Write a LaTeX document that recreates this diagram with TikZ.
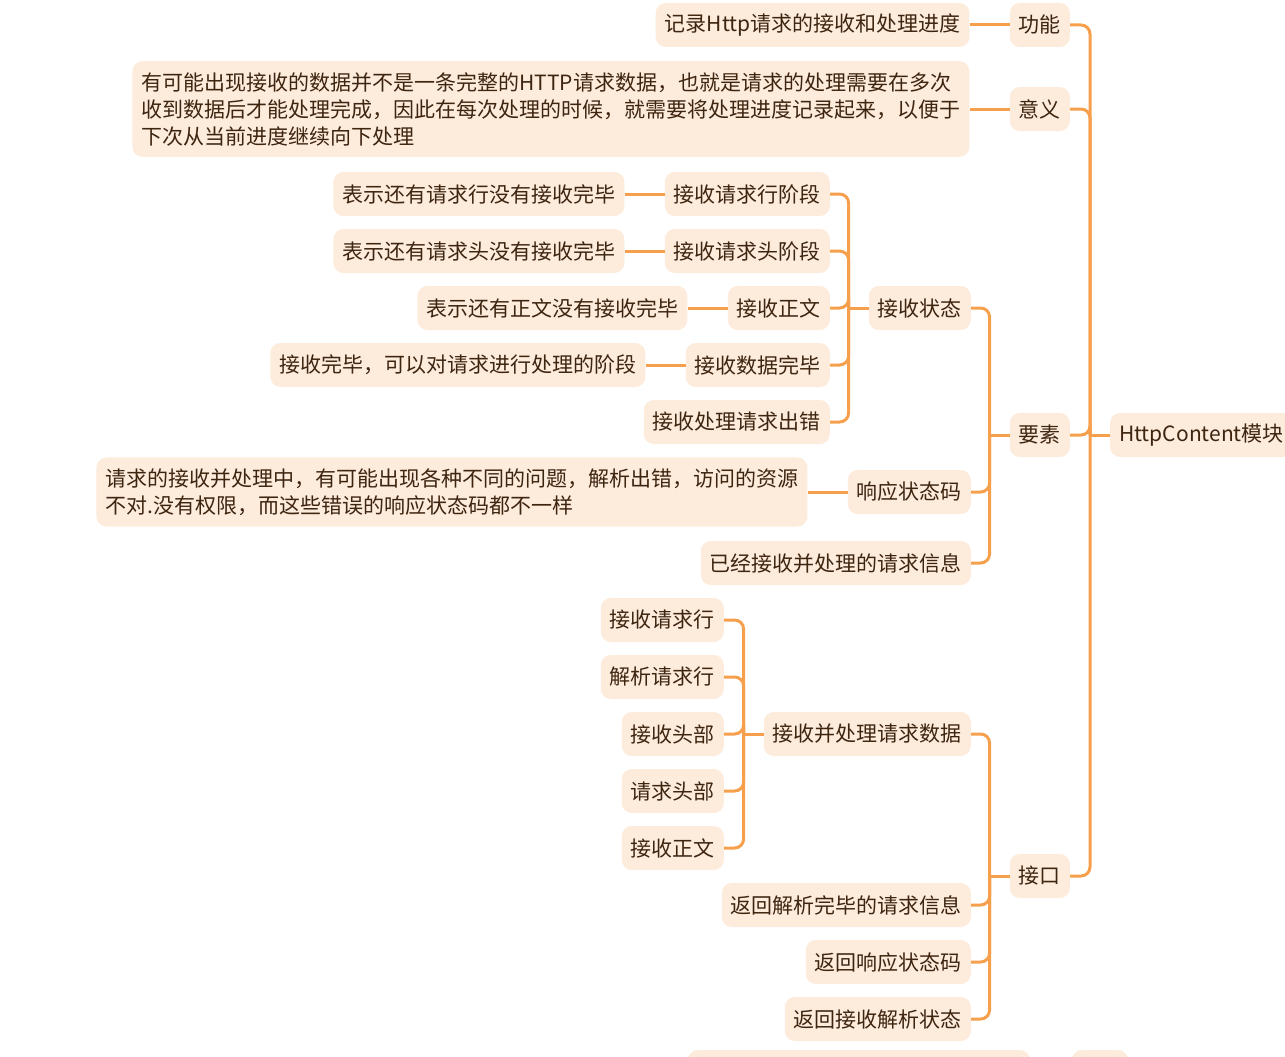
\documentclass[tikz,border=0pt]{standalone}
\usepackage{fontspec}
\newfontfamily\cjk{Noto Sans CJK SC}
\usetikzlibrary{positioning}
\definecolor{mmfill}{HTML}{FDEBDC}
\definecolor{mmline}{HTML}{F6A04D}
\definecolor{mmtext}{HTML}{3E2510}
\tikzset{topic/.style={fill=mmfill,text=mmtext,rounded corners=10pt,inner xsep=9pt,inner ysep=0pt,minimum height=44pt,font=\cjk\fontsize{21}{27}\selectfont},
	note/.style={topic,align=left,inner ysep=11pt},
	link/.style={draw=mmline,line width=3pt},
	branch/.style={link,rounded corners=9pt,to path={([xshift=-20pt]\tikztostart.west) |- (\tikztotarget.east)}},
}

\begin{document}
\begin{tikzpicture}[x=1pt,y=-1pt,node distance = 40pt]
	\useasboundingbox (0,0) rectangle (1285,1057);
	\node[topic,anchor=west] (root) at (1110,435) {HttpContent模块};
	
	\node[topic,anchor=east] (gn) at (1070,25) {功能};
	\node[topic,anchor=east] (yy) at (1070,109) {意义};
	\node[topic,anchor=east] (ys) at (1070,435) {要素};
	\node[topic,anchor=east] (jk) at (1070,876) {接口};
	\node[topic] (gnd)[left = of gn] {记录Http请求的接收和处理进度};
	\node[note] (yyd)[left = of yy] {有可能出现接收的数据并不是一条完整的HTTP请求数据，也就是请求的处理需要在多次\\收到数据后才能处理完成，因此在每次处理的时候，就需要将处理进度记录起来，以便于\\下次从当前进度继续向下处理};
	
	\node[topic,anchor=east] (jszt) at (971,308) {接收状态};
	\node[topic,anchor=east] (xyztm) at (971,492) {响应状态码};
	\node[topic,anchor=east] (qqxx) at (971,563) {已经接收并处理的请求信息};
	\node[note] (xyztmd)[left = of xyztm] {请求的接收并处理中，有可能出现各种不同的问题，解析出错，访问的资源\\不对.没有权限，而这些错误的响应状态码都不一样};
	
	\node[topic,anchor=east] (jsh) at (830,194) {接收请求行阶段};
	\node[topic,anchor=east] (jst) at (830,251) {接收请求头阶段};
	\node[topic,anchor=east] (jsz) at (830,308) {接收正文};
	\node[topic,anchor=east] (jsw) at (830,365) {接收数据完毕};
	\node[topic,anchor=east] (jsc) at (830,422) {接收处理请求出错};
	\node[topic] (jshd)[left = of jsh] {表示还有请求行没有接收完毕};
	\node[topic] (jstd)[left = of jst] {表示还有请求头没有接收完毕};
	\node[topic] (jszd)[left = of jsz] {表示还有正文没有接收完毕};
	\node[topic] (jswd)[left = of jsw] {接收完毕，可以对请求进行处理的阶段};
	
	\node[topic,anchor=east] (clsj) at (971,734) {接收并处理请求数据};
	\node[topic,anchor=east] (fhxx) at (971,905) {返回解析完毕的请求信息};
	\node[topic,anchor=east] (fhzt) at (971,962) {返回响应状态码};
	\node[topic,anchor=east] (fhjx) at (971,1019) {返回接收解析状态};
	
	\node[topic,anchor=east] (c1) at (724,620) {接收请求行};
	\node[topic,anchor=east] (c2) at (724,677) {解析请求行};
	\node[topic,anchor=east] (c3) at (724,734) {接收头部};
	\node[topic,anchor=east] (c4) at (724,791) {请求头部};
	\node[topic,anchor=east] (c5) at (724,848) {接收正文};
	
	% cut off at the bottom
	\fill[mmfill,rounded corners=10pt] (688,1050) rectangle (1030,1110);
	\fill[mmfill,rounded corners=10pt] (1072,1050) rectangle (1128,1110);
	
	\draw[link] (root.west) -- ++(-20pt,0);
	\draw[link] (ys.west) -- ++(-20pt,0);
	\draw[link] (jk.west) -- ++(-20pt,0);
	\draw[link] (jszt.west) -- ++(-20pt,0);
	\draw[link] (clsj.west) -- ++(-20pt,0);
	
	\path
	(root) edge[branch] (gn) edge[branch] (yy) edge[branch] (ys) edge[branch] (jk)
	(ys) edge[branch] (jszt) edge[branch] (xyztm) edge[branch] (qqxx)
	(jszt) edge[branch] (jsh) edge[branch] (jst) edge[branch] (jsz) edge[branch] (jsw) edge[branch] (jsc)
	(jk) edge[branch] (clsj) edge[branch] (fhxx) edge[branch] (fhzt) edge[branch] (fhjx)
	(clsj) edge[branch] (c1) edge[branch] (c2) edge[branch] (c3) edge[branch] (c4) edge[branch] (c5);
	
	\path
	(gnd) edge[link] (gn)
	(yyd) edge[link] (yy)
	(xyztmd) edge[link] (xyztm)
	(jshd) edge[link] (jsh)
	(jstd) edge[link] (jst)
	(jszd) edge[link] (jsz)
	(jswd) edge[link] (jsw);
\end{tikzpicture}
\end{document}
